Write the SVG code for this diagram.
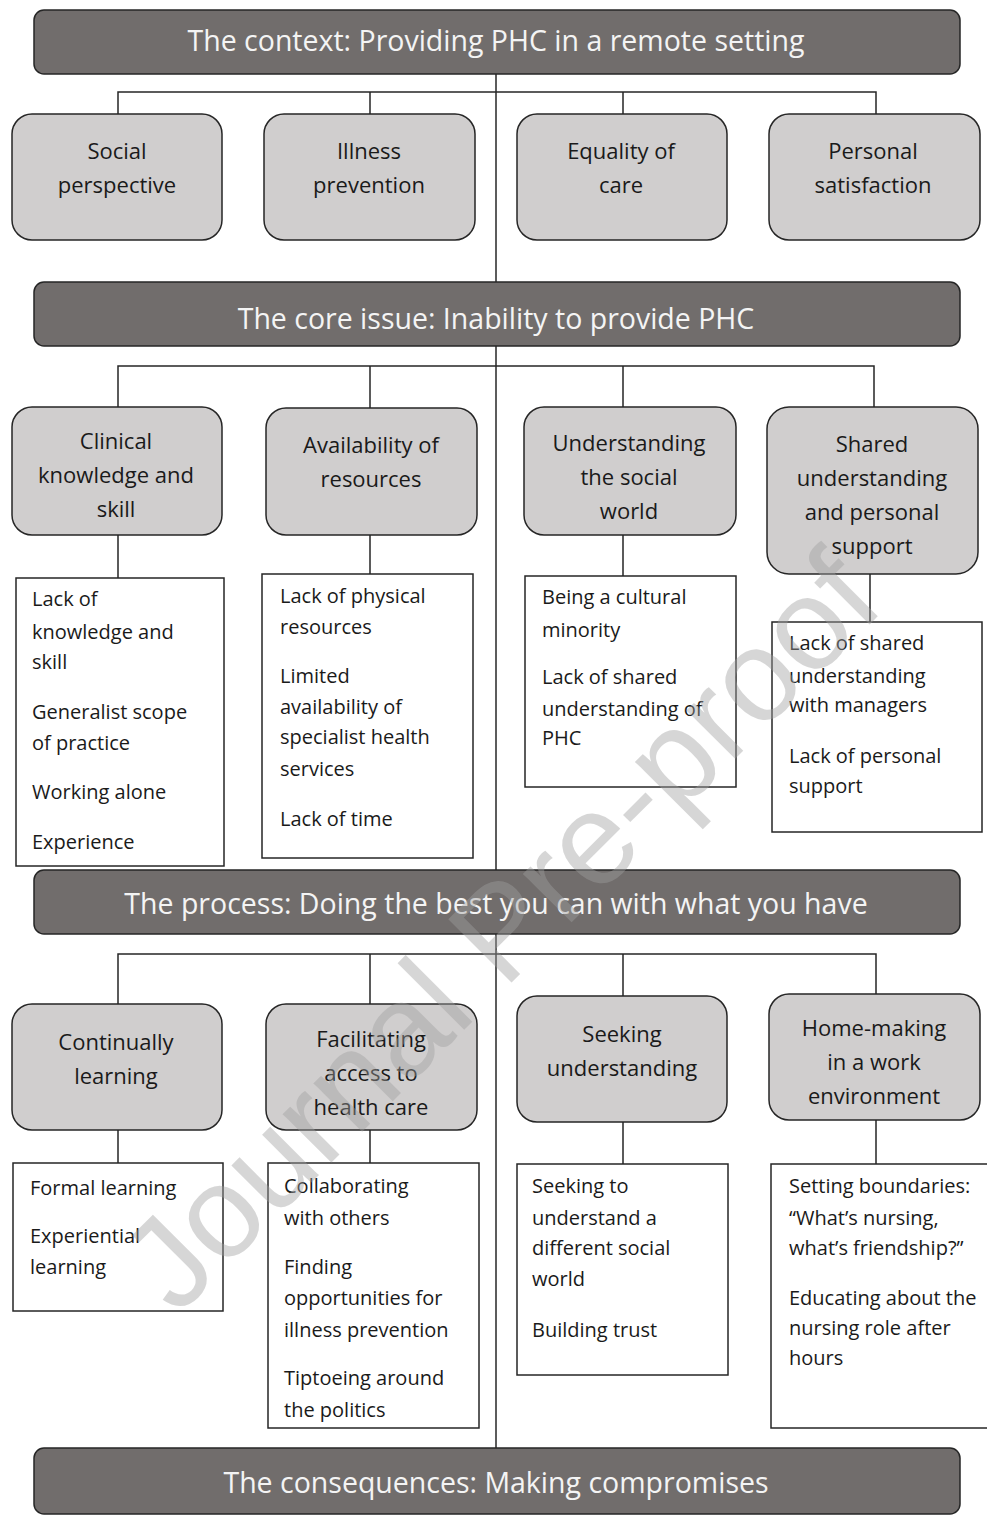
<svg xmlns="http://www.w3.org/2000/svg" width="987" height="1519" viewBox="0 0 987 1519">
<style>
.banner{fill:#716d6c;stroke:#262626;stroke-width:1.5}
.btxt{font-family:"Open Sans","Noto Sans",sans-serif;font-size:28.5px;fill:#f4f4f4;text-anchor:middle}
.box{fill:#d0cece;stroke:#262626;stroke-width:1.5}
.boxt{font-family:"Open Sans","Noto Sans",sans-serif;font-size:22px;fill:#1a1a1a;text-anchor:middle}
.tb{fill:#ffffff;stroke:#262626;stroke-width:1.5}
.tbt{font-family:"Open Sans","Noto Sans",sans-serif;font-size:20px;fill:#1a1a1a}
.con{fill:none;stroke:#262626;stroke-width:1.5}
.wm{font-family:"Liberation Sans",Arial,sans-serif;font-size:130px;fill:#a0a0a0;opacity:0.42;text-anchor:middle}
</style>
<rect width="987" height="1519" fill="#ffffff"/>
<g id="connectors">
<path class="con" d="M496,74 V1448"/>
<path class="con" d="M118,114 V92 H876 V114 M370,92 V114 M623,92 V114"/>
<path class="con" d="M118,407 V366 H874 V407 M370,366 V408 M623,366 V407"/>
<path class="con" d="M118,535 V578 M370,535 V574 M623,535 V576 M870,574 V622"/>
<path class="con" d="M118,1004 V954 H876 V994 M370,954 V1004 M623,954 V996"/>
<path class="con" d="M118,1130 V1163 M370,1130 V1163 M623,1122 V1164 M876,1120 V1164"/>
</g>
<g id="banner-context"><rect class="banner" x="34" y="10" width="926" height="64" rx="10"/><text class="btxt" x="496" y="51">The context: Providing PHC in a remote setting</text></g>
<g id="banner-core"><rect class="banner" x="34" y="282" width="926" height="64" rx="10"/><text class="btxt" x="496" y="329">The core issue: Inability to provide PHC</text></g>
<g id="banner-process"><rect class="banner" x="34" y="870" width="926" height="64" rx="10"/><text class="btxt" x="496" y="914">The process: Doing the best you can with what you have</text></g>
<g id="banner-consequences"><rect class="banner" x="34" y="1448" width="926" height="66" rx="10"/><text class="btxt" x="496" y="1493">The consequences: Making compromises</text></g>

<g id="social-perspective"><rect class="box" x="12" y="114" width="210" height="126" rx="20"/><text class="boxt" x="117" y="159">Social</text><text class="boxt" x="117" y="193">perspective</text></g>
<g id="illness-prevention"><rect class="box" x="264" y="114" width="211" height="126" rx="20"/><text class="boxt" x="369" y="159">Illness</text><text class="boxt" x="369" y="193">prevention</text></g>
<g id="equality-of-care"><rect class="box" x="517" y="114" width="210" height="126" rx="20"/><text class="boxt" x="621" y="159">Equality of</text><text class="boxt" x="621" y="193">care</text></g>
<g id="personal-satisfaction"><rect class="box" x="769" y="114" width="211" height="126" rx="20"/><text class="boxt" x="873" y="159">Personal</text><text class="boxt" x="873" y="193">satisfaction</text></g>

<g id="clinical-knowledge"><rect class="box" x="12" y="407" width="210" height="128" rx="20"/><text class="boxt" x="116" y="449">Clinical</text><text class="boxt" x="116" y="483">knowledge and</text><text class="boxt" x="116" y="517">skill</text></g>
<g id="availability-resources"><rect class="box" x="266" y="408" width="211" height="127" rx="20"/><text class="boxt" x="371" y="453">Availability of</text><text class="boxt" x="371" y="487">resources</text></g>
<g id="understanding-social-world"><rect class="box" x="524" y="407" width="212" height="128" rx="20"/><text class="boxt" x="629" y="451">Understanding</text><text class="boxt" x="629" y="485">the social</text><text class="boxt" x="629" y="519">world</text></g>
<g id="shared-understanding"><rect class="box" x="767" y="407" width="211" height="167" rx="22"/><text class="boxt" x="872" y="452">Shared</text><text class="boxt" x="872" y="486">understanding</text><text class="boxt" x="872" y="520">and personal</text><text class="boxt" x="872" y="554">support</text></g>

<g id="tb-clinical"><rect class="tb" x="16" y="578" width="208" height="288"/>
<text class="tbt" x="32" y="606">Lack of</text><text class="tbt" x="32" y="639">knowledge and</text><text class="tbt" x="32" y="669">skill</text>
<text class="tbt" x="32" y="719">Generalist scope</text><text class="tbt" x="32" y="750">of practice</text>
<text class="tbt" x="32" y="799">Working alone</text><text class="tbt" x="32" y="849">Experience</text></g>
<g id="tb-availability"><rect class="tb" x="262" y="574" width="211" height="284"/>
<text class="tbt" x="280" y="603">Lack of physical</text><text class="tbt" x="280" y="634">resources</text>
<text class="tbt" x="280" y="683">Limited</text><text class="tbt" x="280" y="714">availability of</text><text class="tbt" x="280" y="744">specialist health</text><text class="tbt" x="280" y="776">services</text>
<text class="tbt" x="280" y="826">Lack of time</text></g>
<g id="tb-social-world"><rect class="tb" x="525" y="576" width="211" height="211"/>
<text class="tbt" x="542" y="604">Being a cultural</text><text class="tbt" x="542" y="637">minority</text>
<text class="tbt" x="542" y="684">Lack of shared</text><text class="tbt" x="542" y="716">understanding of</text><text class="tbt" x="542" y="745">PHC</text></g>
<g id="tb-shared"><rect class="tb" x="772" y="622" width="210" height="210"/>
<text class="tbt" x="789" y="650">Lack of shared</text><text class="tbt" x="789" y="683">understanding</text><text class="tbt" x="789" y="712">with managers</text>
<text class="tbt" x="789" y="763">Lack of personal</text><text class="tbt" x="789" y="793">support</text></g>

<g id="continually-learning"><rect class="box" x="12" y="1004" width="210" height="126" rx="20"/><text class="boxt" x="116" y="1050">Continually</text><text class="boxt" x="116" y="1084">learning</text></g>
<g id="facilitating-access"><rect class="box" x="266" y="1004" width="211" height="126" rx="20"/><text class="boxt" x="371" y="1047">Facilitating</text><text class="boxt" x="371" y="1081">access to</text><text class="boxt" x="371" y="1115">health care</text></g>
<g id="seeking-understanding"><rect class="box" x="517" y="996" width="210" height="126" rx="20"/><text class="boxt" x="622" y="1042">Seeking</text><text class="boxt" x="622" y="1076">understanding</text></g>
<g id="home-making"><rect class="box" x="769" y="994" width="211" height="126" rx="20"/><text class="boxt" x="874" y="1036">Home-making</text><text class="boxt" x="874" y="1070">in a work</text><text class="boxt" x="874" y="1104">environment</text></g>

<g id="tb-learning"><rect class="tb" x="13" y="1163" width="210" height="148"/>
<text class="tbt" x="30" y="1195">Formal learning</text>
<text class="tbt" x="30" y="1243">Experiential</text><text class="tbt" x="30" y="1274">learning</text></g>
<g id="tb-facilitating"><rect class="tb" x="268" y="1163" width="211" height="265"/>
<text class="tbt" x="284" y="1193">Collaborating</text><text class="tbt" x="284" y="1225">with others</text>
<text class="tbt" x="284" y="1274">Finding</text><text class="tbt" x="284" y="1305">opportunities for</text><text class="tbt" x="284" y="1337">illness prevention</text>
<text class="tbt" x="284" y="1385">Tiptoeing around</text><text class="tbt" x="284" y="1417">the politics</text></g>
<g id="tb-seeking"><rect class="tb" x="517" y="1164" width="211" height="211"/>
<text class="tbt" x="532" y="1193">Seeking to</text><text class="tbt" x="532" y="1225">understand a</text><text class="tbt" x="532" y="1255">different social</text><text class="tbt" x="532" y="1286">world</text>
<text class="tbt" x="532" y="1337">Building trust</text></g>
<g id="tb-home"><rect class="tb" x="771" y="1164" width="220" height="264"/>
<text class="tbt" x="789" y="1193">Setting boundaries:</text><text class="tbt" x="789" y="1225">“What’s nursing,</text><text class="tbt" x="789" y="1255">what’s friendship?”</text>
<text class="tbt" x="789" y="1305">Educating about the</text><text class="tbt" x="789" y="1335">nursing role after</text><text class="tbt" x="789" y="1365">hours</text></g>

<text class="wm" x="532" y="962" transform="rotate(-45 532 962)">Journal Pre-proof</text>
</svg>
